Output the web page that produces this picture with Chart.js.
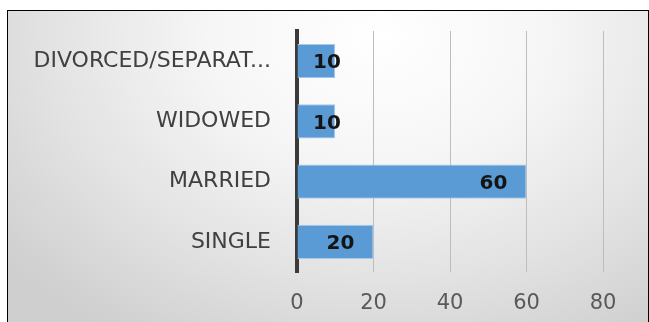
<!DOCTYPE html>
<html>
<head>
<meta charset="utf-8">
<script src="https://cdn.jsdelivr.net/npm/chart.js@4"></script>
<style>
  html, body { margin: 0; padding: 0; background: #fff; overflow: hidden; }
  #frame {
    position: absolute; left: 7px; top: 10px; width: 640px; height: 320px;
    border: 1px solid #000;
    background: radial-gradient(ellipse 75% 110% at 58% 8%, #ffffff 0%, #f6f6f6 35%, #e2e2e2 70%, #cfcfcf 100%);
  }
  canvas { display: block; }
</style>
</head>
<body>
<div id="frame"><canvas id="c" width="640" height="311"></canvas></div>
<script>
// categories top to bottom
const categories = ["DIVORCED/SEPARATED", "WIDOWED", "MARRIED", "SINGLE"];
const counts = [10, 10, 60, 20];
const xTicks = [0, 20, 40, 60, 80];

const FONT = "'DejaVu Sans', sans-serif";

// labels on the bars, near the end
const barLabels = {
  id: "barLabels",
  afterDatasetsDraw(chart) {
    const ctx = chart.ctx;
    const meta = chart.getDatasetMeta(0);
    const zero = chart.scales.x.getPixelForValue(0);
    ctx.save();
    ctx.font = "bold 20px " + FONT;
    ctx.fillStyle = "#141414";
    ctx.textAlign = "center";
    ctx.textBaseline = "middle";
    meta.data.forEach((bar, i) => {
      const cx = Math.max(bar.x - 33, zero + 30);
      ctx.fillText(String(counts[i]), cx, bar.y + 2);
    });
    ctx.restore();
  }
};

new Chart(document.getElementById("c"), {
  type: "bar",
  data: {
    labels: categories,
    datasets: [{
      data: counts,
      backgroundColor: "#5B9BD5",
      borderColor: "#a8caea",
      borderWidth: 1,
      categoryPercentage: 1,
      barPercentage: 0.57
    }]
  },
  options: {
    indexAxis: "y",
    responsive: false,
    animation: false,
    layout: { padding: { top: 20, right: 45, left: 0, bottom: 0 } },
    plugins: { legend: { display: false }, tooltip: { enabled: false } },
    scales: {
      x: {
        min: 0, max: 80,
        afterBuildTicks: s => { s.ticks = xTicks.map(v => ({ value: v })); },
        border: { display: false },
        grid: {
          drawTicks: false,
          color: ctx => ctx.tick && ctx.tick.value === 0 ? "rgba(0,0,0,0)" : "#bdbdbd",
          lineWidth: 1
        },
        ticks: { padding: 19, color: "#595959", font: { family: FONT, size: 21 } },
        afterFit: s => { s.height = 50; }
      },
      y: {
        border: { display: true, color: "#3a3a3a", width: 4 },
        grid: { display: false, drawTicks: false },
        ticks: {
          padding: 26,
          color: "#404040",
          font: { family: FONT, size: 22 },
          callback: function (v) {
            const t = this.getLabelForValue(v);
            return t.length > 16 ? t.slice(0, 16) + "..." : t;
          }
        },
        afterFit: s => { s.width = 289; s.paddingTop = 0; s.paddingBottom = 0; }
      }
    }
  },
  plugins: [barLabels]
});
</script>
</body>
</html>
